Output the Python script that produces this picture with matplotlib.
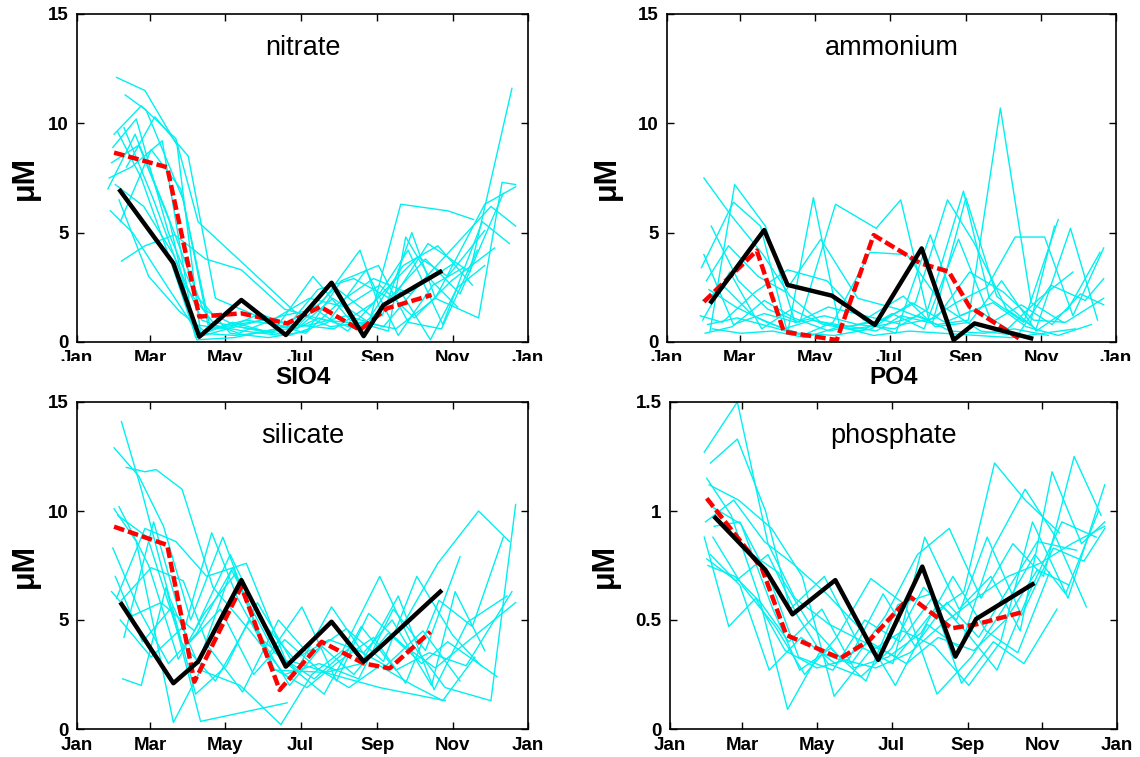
import matplotlib
matplotlib.use("Agg")
import matplotlib.pyplot as plt
from matplotlib.patches import Rectangle

plt.rcParams['font.family'] = ['Liberation Sans', 'DejaVu Sans']

# month ticks (day of year)
tick_days = [0, 59, 120, 181, 243, 304, 365]
tick_names = ['Jan', 'Mar', 'May', 'Jul', 'Sep', 'Nov', 'Jan']

# ---------------- nitrate ----------------
nitrate_days = [
    [32, 55, 81, 100, 128, 160, 190, 218, 248, 275, 305],
    [39, 56, 86, 106, 135, 165, 196, 226, 255, 284, 318, 352],
    [30, 52, 80, 98, 140, 176, 205, 232, 258, 290, 330, 355],
    [36, 55, 79, 104, 133, 168, 200, 236, 262, 300, 321],
    [28, 50, 75, 96, 122, 150, 185, 212, 240, 270, 296, 335, 355],
    [25, 47, 72, 102, 130, 158, 191, 221, 252, 266, 287, 308],
    [33, 52, 77, 97, 127, 162, 198, 229, 247, 271, 290, 325, 344, 355],
    [27, 45, 70, 99, 126, 152, 180, 209, 238, 264, 292, 320],
    [35, 60, 84, 108, 137, 170, 195, 224, 253, 282, 310, 345],
    [29, 48, 74, 95, 124, 155, 186, 214, 244, 268, 295, 324],
    [31, 54, 78, 101, 131, 166, 193, 219, 250, 276, 300, 330],
    [38, 62, 88, 110, 142, 172, 203, 234, 260, 288, 313],
    [26, 44, 69, 94, 121, 148, 178, 207, 236, 262, 286, 308, 330],
    [34, 58, 83, 103, 129, 161, 188, 217, 245, 273, 303, 338],
    [40, 63, 90, 112, 145, 175, 208, 240, 268, 296, 328, 350],
]
nitrate_vals = [
    [12.1, 11.5, 9.0, 0.4, 0.3, 0.5, 0.8, 1.2, 0.7, 2.5, 3.6],
    [11.3, 10.6, 6.5, 0.8, 0.5, 0.3, 1.1, 0.6, 1.9, 4.5, 3.2, 11.6],
    [9.5, 10.8, 9.3, 5.5, 3.3, 1.4, 0.7, 0.9, 0.6, 2.0, 6.3, 7.1],
    [3.7, 4.4, 4.9, 3.8, 3.3, 1.5, 1.0, 0.8, 6.3, 6.0, 5.6],
    [8.2, 9.0, 5.5, 0.2, 0.6, 1.0, 0.4, 1.8, 2.9, 2.2, 3.8, 6.2, 5.3],
    [7.0, 9.5, 6.0, 1.5, 0.7, 0.4, 3.0, 1.0, 0.5, 4.8, 2.8, 1.6],
    [9.6, 7.5, 3.5, 0.1, 0.2, 0.6, 1.8, 4.2, 1.2, 5.0, 2.0, 1.1, 7.3, 7.2],
    [6.0, 5.0, 2.8, 0.3, 0.9, 0.5, 0.8, 2.5, 1.2, 3.5, 4.4, 2.6],
    [5.5, 8.8, 7.0, 0.6, 1.0, 0.7, 2.4, 2.9, 2.0, 3.8, 2.2, 6.8],
    [8.9, 10.2, 5.0, 2.2, 0.4, 0.2, 0.5, 2.8, 3.5, 0.9, 0.6, 4.2],
    [7.2, 6.2, 4.0, 1.0, 0.4, 1.2, 1.5, 0.5, 2.4, 3.9, 3.0, 5.1],
    [9.8, 6.5, 2.5, 0.9, 0.6, 0.3, 0.9, 3.3, 0.3, 2.6, 3.4],
    [7.5, 8.0, 9.2, 0.8, 0.6, 1.3, 0.6, 2.0, 0.9, 2.3, 0.1, 2.5, 3.5],
    [6.5, 3.0, 1.4, 0.5, 0.8, 1.1, 2.0, 1.6, 2.6, 1.1, 2.8, 4.3],
    [8.0, 10.3, 8.5, 2.0, 1.2, 0.8, 0.6, 1.8, 4.2, 0.8, 5.5, 4.5],
]
nitrate_clim_days = [30, 73, 99, 133, 170, 197, 229, 251, 287]
nitrate_clim = [8.66, 7.99, 1.16, 1.31, 0.85, 1.61, 0.55, 1.54, 2.15]
nitrate_year_days = [35, 78, 99, 133, 169, 206, 232, 248, 294]
nitrate_year = [6.91, 3.6, 0.24, 1.92, 0.32, 2.71, 0.27, 1.69, 3.21]

# ---------------- ammonium ----------------
ammonium_days = [
    [30, 52, 78, 100, 125, 150, 178, 205, 230, 258, 282, 310],
    [35, 55, 80, 104, 128, 155, 185, 212, 241, 262, 290, 318],
    [28, 54, 76, 98, 119, 140, 170, 190, 220, 245, 271, 296, 322],
    [36, 58, 82, 108, 137, 170, 190, 213, 235, 260, 283, 307, 330, 355],
    [32, 50, 74, 96, 125, 155, 188, 216, 243, 268, 295, 315],
    [29, 47, 70, 95, 118, 148, 175, 202, 228, 250, 276, 300, 328, 350],
    [33, 57, 84, 110, 135, 165, 195, 225, 255, 285, 312, 340, 355],
    [27, 45, 72, 98, 130, 160, 192, 218, 246, 272, 300, 326, 352],
    [31, 53, 79, 103, 132, 162, 186, 214, 238, 265, 292, 318, 345],
    [34, 56, 81, 107, 136, 166, 199, 226, 251, 277, 303, 330],
    [29, 51, 77, 101, 127, 158, 183, 209, 237, 264, 288, 313, 336, 355],
    [37, 60, 86, 112, 140, 168, 197, 224, 252, 280, 306, 332],
    [30, 54, 79, 105, 131, 161, 191, 219, 246, 273, 298, 324, 355],
]
ammonium_vals = [
    [7.5, 5.8, 4.0, 2.1, 0.9, 0.6, 0.8, 1.2, 0.5, 0.4, 0.6, 0.3],
    [0.5, 7.2, 5.3, 0.9, 1.2, 0.8, 0.6, 1.5, 6.9, 2.0, 0.9, 5.6],
    [3.4, 6.4, 5.3, 0.4, 6.6, 0.8, 0.5, 1.2, 0.8, 1.0, 10.7, 1.8, 0.9],
    [5.3, 2.8, 1.5, 0.9, 6.3, 5.2, 6.5, 1.0, 1.8, 2.5, 4.8, 4.8, 1.2, 4.3],
    [2.8, 4.4, 3.0, 2.3, 4.7, 2.0, 1.5, 0.9, 6.6, 2.1, 0.8, 5.3],
    [1.9, 2.5, 1.2, 0.6, 1.0, 0.7, 1.0, 1.8, 6.5, 4.5, 1.5, 0.6, 5.2, 1.0],
    [0.8, 1.1, 0.7, 0.3, 0.9, 4.1, 4.0, 1.6, 0.5, 0.3, 2.6, 1.9, 2.9],
    [1.2, 0.9, 2.3, 3.3, 2.8, 1.0, 2.1, 0.7, 0.9, 2.8, 0.5, 1.5, 4.1],
    [0.4, 0.7, 1.9, 1.1, 0.5, 0.9, 0.4, 4.9, 1.2, 1.8, 0.7, 0.3, 0.8],
    [2.4, 1.6, 0.9, 0.4, 0.3, 0.6, 1.8, 0.9, 1.5, 0.6, 2.0, 3.2],
    [1.0, 3.2, 0.6, 1.5, 0.8, 0.5, 1.3, 0.6, 4.7, 0.9, 1.7, 0.8, 2.2, 1.7],
    [0.6, 0.4, 0.5, 0.2, 0.7, 0.3, 0.5, 0.4, 0.3, 0.2, 0.4, 0.6],
    [4.0, 0.8, 1.3, 0.9, 1.6, 1.2, 0.8, 1.1, 3.2, 2.3, 1.0, 0.9, 2.0],
]
ammonium_clim_days = [30, 73, 95, 138, 168, 206, 229, 246, 286]
ammonium_clim = [1.84, 4.18, 0.47, 0.09, 4.89, 3.6, 3.22, 1.61, 0.17]
ammonium_year_days = [36, 79, 98, 134, 169, 207, 233, 250, 296]
ammonium_year = [1.84, 5.12, 2.61, 2.12, 0.78, 4.28, 0.09, 0.85, 0.17]

# ---------------- silicate ----------------
silicate_days = [
    [36, 52, 75, 98, 125, 160, 192, 222, 250, 280, 310],
    [30, 50, 70, 92, 118, 148, 178, 206, 235, 262, 292, 325, 350],
    [40, 55, 64, 85, 110, 140, 168, 196, 228, 256, 282, 310],
    [30, 48, 78, 100, 132, 165, 190, 215, 245, 270, 298, 335, 355],
    [34, 58, 82, 103, 128, 158, 186, 212, 240, 266, 293, 320, 345],
    [32, 55, 80, 105, 137, 170, 200, 230, 258, 285, 315, 352],
    [35, 60, 88, 109, 130, 155, 182, 210, 236, 265, 290, 318, 355],
    [37, 52, 72, 100, 170],
    [28, 45, 68, 95, 124, 150, 176, 204, 232, 255, 287, 306, 330],
    [33, 57, 84, 112, 140, 172, 198, 224, 252, 279, 300, 340],
    [31, 53, 77, 96, 121, 146, 174, 202, 230, 260, 289, 316, 348],
    [38, 62, 90, 116, 143, 168, 194, 220, 245, 272, 296, 322],
    [29, 50, 74, 97, 126, 160, 200, 245, 298],
    [36, 60, 86, 106, 134, 163, 188, 218, 248, 275, 304, 327],
]
silicate_vals = [
    [14.1, 11.0, 6.0, 3.0, 7.3, 3.5, 2.3, 3.8, 2.9, 4.5, 2.2],
    [12.9, 11.6, 9.3, 5.0, 8.8, 4.2, 2.7, 5.6, 3.2, 4.6, 7.6, 10.0, 8.6],
    [12.0, 11.8, 11.9, 11.0, 6.5, 4.5, 2.5, 3.0, 2.3, 5.5, 3.6, 7.9],
    [10.1, 8.6, 0.3, 2.7, 2.0, 0.2, 2.5, 3.6, 7.0, 4.0, 1.9, 1.3, 10.3],
    [10.2, 7.5, 3.2, 5.3, 7.1, 2.8, 1.9, 3.1, 4.2, 2.1, 5.9, 4.7, 8.8],
    [6.0, 9.2, 8.6, 7.0, 7.6, 3.0, 1.6, 4.7, 2.7, 3.5, 2.9, 6.3],
    [5.0, 3.3, 4.8, 9.0, 6.0, 3.4, 5.6, 2.2, 5.3, 3.8, 2.8, 4.1, 5.8],
    [2.3, 2.0, 6.5, 0.35, 1.2],
    [6.3, 5.2, 5.8, 4.5, 8.0, 4.9, 3.2, 4.1, 3.5, 5.0, 2.0, 6.3, 3.6],
    [9.8, 8.8, 4.0, 2.2, 5.0, 2.0, 3.8, 2.5, 4.4, 3.0, 4.0, 2.4],
    [7.0, 4.0, 5.6, 1.6, 2.9, 5.8, 3.1, 2.6, 3.0, 6.1, 1.8, 4.9, 6.1],
    [4.2, 9.5, 3.9, 5.5, 2.5, 4.1, 2.8, 1.9, 2.9, 2.0, 1.3, 3.3],
    [8.3, 5.5, 3.0, 4.4, 7.4, 2.7, 2.6, 1.9, 1.3],
    [5.9, 7.4, 6.8, 3.8, 1.7, 5.0, 3.4, 4.6, 3.1, 7.0, 4.3, 2.9],
]
silicate_clim_days = [30, 73, 95, 133, 164, 198, 232, 253, 286]
silicate_clim = [9.28, 8.44, 2.17, 6.53, 1.79, 4.0, 3.01, 2.78, 4.46]
silicate_year_days = [36, 78, 98, 133, 169, 206, 232, 248, 294]
silicate_year = [5.73, 2.1, 3.09, 6.83, 2.86, 4.92, 3.09, 3.9, 6.3]

# ---------------- phosphate ----------------
phosphate_days = [
    [28, 55, 80, 102, 130, 158, 185, 212, 240, 265, 290, 318],
    [33, 55, 78, 98, 126, 155, 182, 208, 236, 262, 286, 312, 336, 355],
    [30, 50, 72, 96, 122, 148, 176, 202, 228, 254, 280, 305, 330, 352],
    [32, 56, 83, 108, 134, 162, 190, 216, 244, 270, 296, 325, 355],
    [29, 52, 77, 100, 128, 157, 184, 210, 237, 263, 290, 315, 340],
    [35, 60, 86, 110, 136, 164, 192, 218, 246, 272, 298, 323, 350],
    [31, 53, 74, 97, 124, 150, 178, 205, 231, 258, 284, 310],
    [34, 58, 84, 106, 131, 160, 186, 213, 241, 267, 293, 320, 348],
    [30, 54, 80, 104, 129, 156, 181, 207, 234, 259, 287, 313, 338, 355],
    [36, 57, 82, 105, 133, 159, 188, 214, 238, 264, 289, 316],
    [28, 48, 70, 94, 120, 146, 174, 200, 226, 252, 278, 300, 332],
    [33, 57, 81, 107, 135, 163, 193, 219, 248, 274, 300, 326],
    [37, 62, 88, 113, 140, 168, 196, 222, 250, 276, 302, 328, 355],
]
phosphate_vals = [
    [1.27, 1.50, 0.85, 0.60, 0.48, 0.40, 0.33, 0.52, 0.63, 1.22, 1.05, 0.90],
    [1.22, 1.33, 1.00, 0.55, 0.70, 0.38, 0.30, 0.88, 0.55, 0.70, 0.45, 1.18, 0.85, 0.95],
    [1.15, 0.98, 0.62, 0.09, 0.35, 0.30, 0.52, 0.80, 0.92, 0.60, 0.85, 0.70, 1.25, 0.98],
    [1.12, 1.05, 0.92, 0.70, 0.15, 0.35, 0.45, 0.38, 0.20, 0.40, 0.95, 0.60, 1.12],
    [0.95, 1.05, 0.86, 0.76, 0.62, 0.45, 0.20, 0.48, 0.37, 0.82, 1.10, 0.88, 0.56],
    [0.88, 0.65, 0.47, 0.25, 0.42, 0.69, 0.57, 0.16, 0.33, 0.55, 0.80, 0.62, 1.00],
    [0.75, 0.70, 0.58, 0.40, 0.55, 0.28, 0.33, 0.44, 0.70, 0.45, 0.35, 0.72],
    [1.02, 0.94, 0.55, 0.27, 0.37, 0.22, 0.57, 0.62, 0.45, 0.27, 0.62, 0.95, 0.88],
    [0.78, 0.68, 0.80, 0.52, 0.30, 0.24, 0.37, 0.65, 0.50, 0.88, 0.52, 0.83, 0.77, 0.92],
    [0.93, 0.95, 0.68, 0.33, 0.27, 0.50, 0.40, 0.60, 0.21, 0.40, 0.30, 0.55],
    [0.88, 0.47, 0.60, 0.36, 0.28, 0.32, 0.62, 0.38, 0.58, 0.42, 0.66, 0.86, 0.82],
    [0.80, 0.66, 0.27, 0.42, 0.30, 0.40, 0.30, 0.42, 0.36, 0.50, 0.73, 0.66],
    [0.98, 0.82, 0.72, 0.49, 0.32, 0.28, 0.35, 0.48, 0.60, 0.70, 0.76, 0.85, 0.93],
]
phosphate_clim_days = [30, 75, 95, 139, 163, 196, 230, 250, 289]
phosphate_clim = [1.058, 0.737, 0.431, 0.324, 0.408, 0.607, 0.462, 0.48, 0.538]
phosphate_year_days = [37, 78, 100, 135, 170, 206, 233, 250, 296]
phosphate_year = [0.969, 0.729, 0.526, 0.683, 0.317, 0.745, 0.332, 0.505, 0.664]

W, H = 1140, 757
fig = plt.figure(figsize=(W / 100, H / 100), dpi=100)


def px_axes(x0, y0, x1, y1):
    # pixel box (top-left origin) -> figure axes
    return fig.add_axes([x0 / W, 1 - y1 / H, (x1 - x0) / W, (y1 - y0) / H])


def draw_panel(ax, days, vals, cdays, clim, ydays, year, name, ymax, yticks, yticklabels, labx):
    for d, v in zip(days, vals):
        ax.plot(d, v, color='#00f0f0', lw=1.0)
    ax.plot(cdays, clim, color='red', lw=3.2, linestyle=(0, (2.4, 0.9)), dash_capstyle='butt')
    ax.plot(ydays, year, color='black', lw=3.2)
    ax.set_xlim(0, 365)
    ax.set_ylim(0, ymax)
    ax.set_xticks(tick_days)
    ax.set_xticklabels(tick_names)
    ax.set_yticks(yticks)
    ax.set_yticklabels(yticklabels)
    ax.tick_params(direction='in', top=True, right=True, length=5, width=1.0,
                   labelsize=13.5, pad=6)
    for lab in ax.get_xticklabels() + ax.get_yticklabels():
        lab.set_fontweight('bold')
    for s in ax.spines.values():
        s.set_linewidth(1.2)
    ax.set_ylabel('\u03bcM', fontsize=22, fontweight='bold')
    ax.yaxis.set_label_coords(labx, 0.5)
    ax.text(0.5, 0.895, name, transform=ax.transAxes, ha='center', va='center', fontsize=19.5)


ax1 = px_axes(77, 14, 528, 342)
ax2 = px_axes(667, 14, 1116, 342)
ax3 = px_axes(77, 402, 528, 729)
ax4 = px_axes(670, 402, 1117, 729)

conc_ticks = [0, 5, 10, 15]
conc_labels = ['0', '5', '10', '15']
draw_panel(ax1, nitrate_days, nitrate_vals, nitrate_clim_days, nitrate_clim,
           nitrate_year_days, nitrate_year, 'nitrate', 15, conc_ticks, conc_labels, -0.082)
draw_panel(ax2, ammonium_days, ammonium_vals, ammonium_clim_days, ammonium_clim,
           ammonium_year_days, ammonium_year, 'ammonium', 15, conc_ticks, conc_labels, -0.10)
draw_panel(ax3, silicate_days, silicate_vals, silicate_clim_days, silicate_clim,
           silicate_year_days, silicate_year, 'silicate', 15, conc_ticks, conc_labels, -0.082)
draw_panel(ax4, phosphate_days, phosphate_vals, phosphate_clim_days, phosphate_clim,
           phosphate_year_days, phosphate_year, 'phosphate', 1.5, [0, 0.5, 1, 1.5],
           ['0', '0.5', '1', '1.5'], -0.112)

# the lower titles sit over the clipped month labels of the upper row
fig.add_artist(Rectangle((0, 1 - 394 / H), 1, 33 / H, transform=fig.transFigure,
                         facecolor='white', edgecolor='none', zorder=10))
fig.text(302.5 / W, 1 - 377 / H, 'SIO4', ha='center', va='center', fontsize=17.5,
         fontweight='bold', zorder=11)
fig.text(893.5 / W, 1 - 377 / H, 'PO4', ha='center', va='center', fontsize=17.5,
         fontweight='bold', zorder=11)

fig.savefig('out.png', dpi=100)
